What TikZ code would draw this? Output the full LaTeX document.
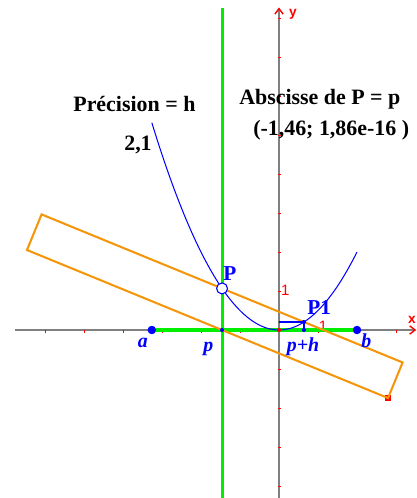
\documentclass[tikz,border=0pt]{standalone}
\usepackage{fontspec}
\setmainfont{Liberation Serif}
\newfontfamily\lsans{Liberation Sans}
\usetikzlibrary{arrows.meta}
\definecolor{ggreen}{RGB}{0,238,0}
\definecolor{gorange}{RGB}{245,150,10}
\definecolor{gblue}{RGB}{0,0,255}
\definecolor{gaxis}{RGB}{128,128,128}
\begin{document}
\begin{tikzpicture}[x=1cm,y=1cm,
  axisline/.style={draw=gaxis,line width=1.1pt,-{Straight Barb[red,length=4pt,width=6pt,line width=1pt]}},
  tickmark/.style={draw=red,line width=0.7pt},
  title/.style={font=\fontsize{16}{19}\selectfont\bfseries,text=black,inner sep=0pt},
  ptlabel/.style={font=\fontsize{15.5}{18}\selectfont\bfseries,text=gblue,inner sep=0pt},
  itlabel/.style={font=\fontsize{14.5}{17}\selectfont\bfseries\itshape,text=gblue,inner sep=0pt},
  unitlabel/.style={font=\lsans\fontsize{11}{13}\selectfont,text=red,inner sep=0pt},
  axlabel/.style={font=\lsans\fontsize{10}{12}\selectfont\bfseries,text=red,inner sep=0pt},
  greenline/.style={draw=ggreen,line width=2.2pt},
  band/.style={draw=gorange,line width=1.5pt,line join=miter},
  bigdot/.style={circle,fill=gblue,inner sep=0pt,minimum size=6pt},
  hollowdot/.style={circle,draw=gblue,fill=white,line width=0.8pt,inner sep=0pt,minimum size=8pt},
  smalldot/.style={circle,fill=gblue,inner sep=0pt,minimum size=3pt},
  reddot/.style={circle,fill=red,inner sep=0pt,minimum size=3pt},
  redsquare/.style={rectangle,fill=red,inner sep=0pt,minimum size=4.5pt}]
\useasboundingbox (-7.154,-4.308) rectangle (3.538,8.462);

% named coordinates
\coordinate (xs) at (-6.77,0);
\coordinate (xe) at (3.52,0);
\coordinate (ys) at (0,-4.31);
\coordinate (ye) at (0,8.27);
\coordinate (gtop) at (-1.46,8.256);
\coordinate (gbot) at (-1.46,-4.31);
\coordinate (TLc) at (-6.088,2.964);
\coordinate (Lc) at (-6.462,2.051);
\coordinate (Rc) at (3.1697,-0.8324);
\coordinate (P1y) at (0,0.2048);

% axes
\draw[axisline] (xs) -- (xe);
\draw[axisline] (ys) -- (ye);
\foreach \k in {-6,...,-1,1,2,3} \draw[tickmark] (\k,-0.01) -- (\k,-0.07);
\foreach \k in {-4,...,-1,1,2,...,8} \draw[tickmark] (-0.03,\k) -- (0.06,\k);
\node[axlabel] (xlab) at (3.41,0.27) {x};
\node[axlabel] (ylab) at (0.36,8.1) {y};
\node[unitlabel] (one-x) at (1.13,0.09) {1};
\node[unitlabel] (one-y) at (0.16,1.01) {1};

% green lines
\draw[greenline] (gbot) -- (gtop);
\node[bigdot] (A) at (-3.26,0) {};
\node[bigdot] (B) at (2,0) {};
\draw[greenline] (A.center) -- (B.center);

% orange band
\node[redsquare] (Bc) at (2.7955,-1.7449) {};
\draw[band] (Lc) -- (TLc) -- (Rc) -- (Bc.center) -- cycle;

% parabola
\draw[gblue,line width=0.75pt,domain=-3.26:2,samples=120] plot (\x,{0.5*\x*\x});

% points
\node[reddot] (O) at (0,0) {};
\node[smalldot] (Pfoot) at (-1.46,0) {};
\node[smalldot] (P1foot) at (0.64,0) {};
\node[smalldot] (P1) at (0.64,0.2048) {};
\draw[gblue,line width=1pt] (P1y) -- (P1.center);
\draw[gblue,line width=1pt] (P1.center) -- (P1foot.center);
\node[bigdot] (A) at (-3.26,0) {};
\node[bigdot] (B) at (2,0) {};
\node[hollowdot] (P) at (-1.46,1.0658) {};

% labels
\node[ptlabel,anchor=base west] (Plab) at (-1.436,1.282) {P};
\node[ptlabel,anchor=base west] (P1lab) at (0.72,0.41) {P1};
\node[itlabel,anchor=base] (alab) at (-3.49,-0.46) {a};
\node[itlabel,anchor=base] (plab) at (-1.81,-0.56) {p};
\node[itlabel,anchor=base] (phlab) at (0.615,-0.56) {p+h};
\node[itlabel,anchor=base] (blab) at (2.24,-0.46) {b};

\node[title,anchor=base west] (prec) at (-5.28,5.615) {Précision = h};
\node[title,anchor=base west] (absc) at (-1.026,5.77) {Abscisse de P = p};
\node[title,anchor=base west] (coord) at (-0.667,5.0) {(-1,46; 1,86e-16 )};
\node[title,anchor=base west] (hval) at (-3.974,4.615) {2,1};
\end{tikzpicture}
\end{document}
